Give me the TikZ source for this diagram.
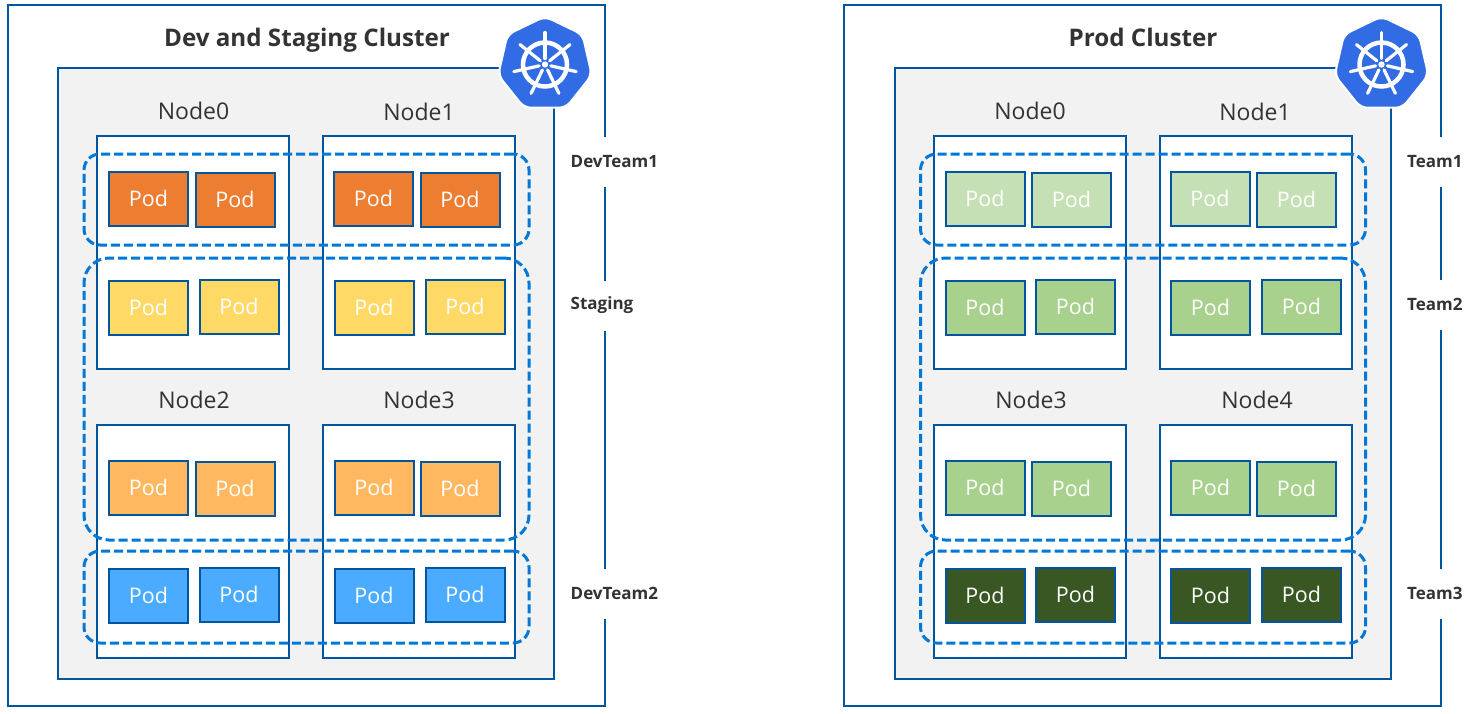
\documentclass[tikz,border=0pt]{standalone}
\usepackage{fontspec}
\setmainfont{Open Sans}
\usetikzlibrary{fit,shapes.geometric}

\definecolor{edgeblue}{HTML}{00559F}
\definecolor{dashblue}{HTML}{0078D7}
\definecolor{panelgrey}{HTML}{F2F2F2}
\definecolor{inktext}{HTML}{333333}
\definecolor{logoblue}{HTML}{326CE5}
\definecolor{devA}{HTML}{ED7D31}
\definecolor{devB}{HTML}{FFD966}
\definecolor{devC}{HTML}{FFB85F}
\definecolor{devD}{HTML}{4BACFF}
\definecolor{prodA}{HTML}{C5E0B4}
\definecolor{prodB}{HTML}{A9D18E}
\definecolor{prodC}{HTML}{A9D18E}
\definecolor{prodD}{HTML}{385723}

\tikzset{
    frame/.style={draw=edgeblue, line width=2pt, inner sep=0pt},
    panel/.style={frame, fill=panelgrey},
    nodebox/.style={frame, fill=white},
    podbox/.style={draw=edgeblue, line width=2pt, inner sep=0pt, label={[text=white, font=\fontsize{21.5}{26}\selectfont]center:Pod}},
    teambox/.style={draw=dashblue, line width=3pt, dash pattern=on 9pt off 4pt, rounded corners=16pt, inner sep=0pt},
    caption/.style={text=inktext, font=\fontsize{23}{28}\selectfont, inner sep=0pt},
    heading/.style={anchor=base, text=inktext, font=\fontsize{24.2}{29}\selectfont\bfseries, inner sep=0pt},
    teamlabel/.style={anchor=west, fill=white, text=inktext, font=\fontsize{17}{21}\selectfont\bfseries, minimum height=50pt, inner sep=0pt},
}

\begin{document}
\begin{tikzpicture}[x=1pt, y=-1pt]
        \useasboundingbox (0, 0) rectangle (1477, 713);

        % the two clusters, the second one is the first one moved right
        \foreach \cl/\dx/\dy in {dev/0/0, prod/836.5/836} {
            \node[frame, fit={(8+\dy, 5) (605+\dy, 706)}] (\cl outer) {};
            \node[panel, fit={(58+\dx, 68) (554+\dx, 679)}] (\cl panel) {};

            \node[nodebox, fit={(97+\dx, 136) (289+\dx, 369)}] (\cl nodeA) {};
            \node[nodebox, fit={(323+\dx, 136) (515+\dx, 369)}] (\cl nodeB) {};
            \node[nodebox, fit={(97+\dx, 425) (289+\dx, 658)}] (\cl nodeC) {};
            \node[nodebox, fit={(323+\dx, 425) (515+\dx, 658)}] (\cl nodeD) {};

            \foreach \n/\x/\y/\r in {
                1/109/171.5/A, 2/195.5/172.5/A, 3/334/171.5/A, 4/420.5/172.5/A,
                5/109/280.5/B, 6/199.5/279.5/B, 7/334.5/280.5/B, 8/425.5/279.5/B,
                9/109/460.5/C, 10/195.5/461.5/C, 11/334.5/460.5/C, 12/420.5/461.5/C,
                13/109/568.5/D, 14/199.5/567.5/D, 15/334.5/568.5/D, 16/425.5/567.5/D}
                \node[podbox, fill=\cl\r, fit={(\x+\dx, \y) (\x+\dx+79, \y+54)}] (\cl pod\n) {};

            \node[teambox, fit={(84+\dx, 154) (529+\dx, 245)}] (\cl teamA) {};
            \node[teambox, rounded corners=25pt, fit={(84+\dx, 258) (529+\dx, 540)}] (\cl teamB) {};
            \node[teambox, fit={(84+\dx, 551) (529+\dx, 643)}] (\cl teamC) {};

            % logo
            \node[regular polygon, regular polygon sides=7, minimum size=96pt, inner sep=0pt, fill=logoblue, draw=white, line width=2pt, rounded corners=7pt] (\cl logo) at (545+\dx, 64.5) {};
            \draw[white, line width=4.5pt] (\cl logo.center) circle (22pt);
            \fill[white] (\cl logo.center) circle (3.2pt);
            \foreach \a in {90, 141.43, 192.86, 244.29, 295.71, 347.14, 38.57}
                \draw[white, line width=3.2pt, line cap=round, shift={(\cl logo.center)}] (\a:6pt) -- (\a:32pt);
        }

        \node[heading] (devtitle) at (307, 46) {Dev and Staging Cluster};
        \node[heading] (prodtitle) at (1143, 46) {Prod Cluster};

        \node[caption] (devname0) at (193.5, 111) {Node0};
        \node[caption] (devname1) at (419, 112) {Node1};
        \node[caption] (devname2) at (194, 400) {Node2};
        \node[caption] (devname3) at (419, 400) {Node3};
        \node[caption] (prodname0) at (1030, 111) {Node0};
        \node[caption] (prodname1) at (1255, 112) {Node1};
        \node[caption] (prodname3) at (1031, 400) {Node3};
        \node[caption] (prodname4) at (1257, 400) {Node4};

        \node[teamlabel] (devlabelA) at (570.5, 162) {DevTeam1};
        \node[teamlabel] (devlabelB) at (570.5, 305.5) {Staging};
        \node[teamlabel] (devlabelC) at (570.5, 593.5) {DevTeam2};
        \node[teamlabel] (prodlabelA) at (1407, 162) {Team1};
        \node[teamlabel] (prodlabelB) at (1407, 304.5) {Team2};
        \node[teamlabel] (prodlabelC) at (1407, 593.5) {Team3};
    \end{tikzpicture}
\end{document}
